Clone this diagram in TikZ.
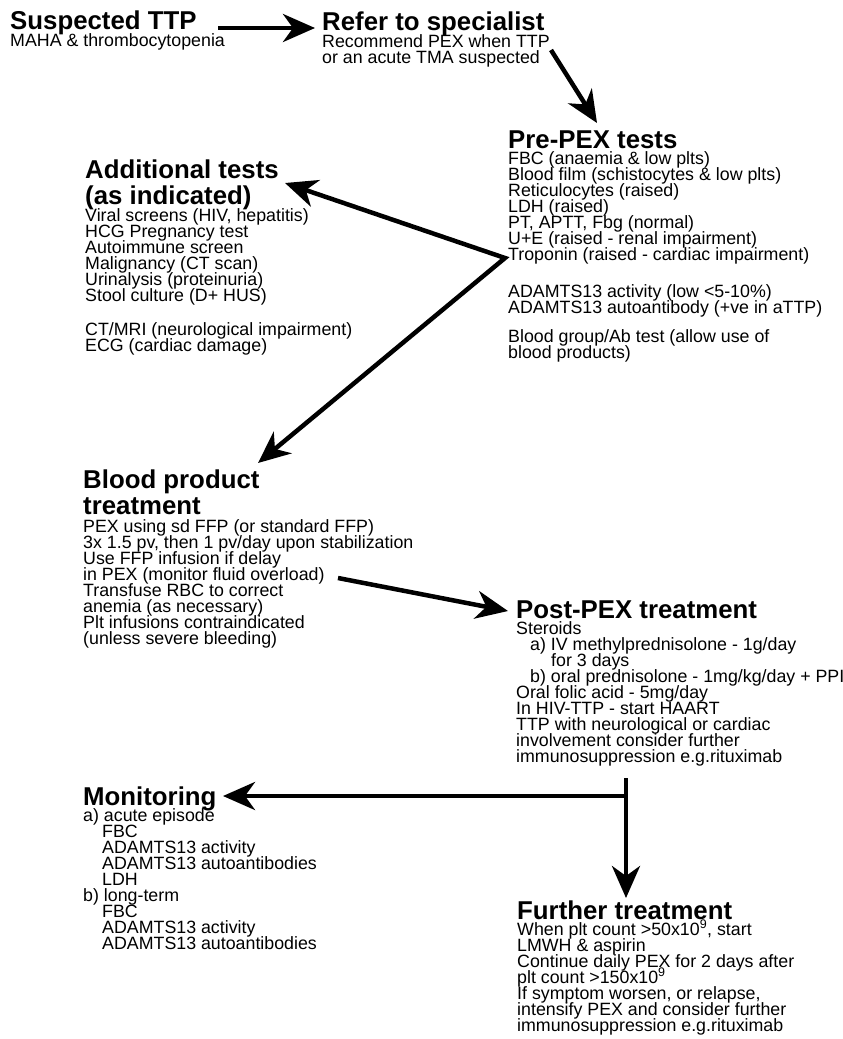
\documentclass[tikz,border=0pt]{standalone}
\usepackage{fontspec}
\setmainfont{Liberation Sans}
\usetikzlibrary{arrows.meta}
\setlength{\lineskiplimit}{-100pt}
\begin{document}
\begin{tikzpicture}[x=1pt,y=-1pt,
  ttl/.style={anchor=base west,inner sep=0pt,align=left,font=\bfseries\fontsize{25.8}{26}\selectfont},
  txt/.style={anchor=base west,inner sep=0pt,align=left,font=\fontsize{17.8}{16}\selectfont},
  tip/.tip={Stealth[length=32pt,width=28pt,inset=10pt]},
  arr/.style={line width=4.5pt,-tip},
  arrs/.style={line width=4.5pt,line join=miter,tip-tip}]
\useasboundingbox (0,0) rectangle (843,1039);
% blocks (anchor = baseline of the last line)
\node[ttl] (ttpT) at (10,29) {Suspected TTP};
\node[txt] (ttpB) at (10,46) {MAHA \& thrombocytopenia};
\node[ttl] (refT) at (322,30) {Refer to specialist};
\node[txt] (refB) at (322,63) {Recommend PEX when TTP\\or an acute TMA suspected};
\node[ttl] (preT) at (508,148) {Pre-PEX tests};
\node[txt] (preB) at (508,358) {FBC (anaemia \& low plts)\\Blood film (schistocytes \& low plts)\\Reticulocytes (raised)\\LDH (raised)\\PT, APTT, Fbg (normal)\\U+E (raised - renal impairment)\\Troponin (raised - cardiac impairment)\\[21pt]ADAMTS13 activity (low <5-10\%)\\ADAMTS13 autoantibody (+ve in aTTP)\\[13pt]Blood group/Ab test (allow use of\\blood products)};
\node[ttl] (addT) at (85,204) {Additional tests\\(as indicated)};
\node[txt] (addB) at (85,351) {Viral screens (HIV, hepatitis)\\HCG Pregnancy test\\Autoimmune screen\\Malignancy (CT scan)\\Urinalysis (proteinuria)\\Stool culture (D+ HUS)\\[18pt]CT/MRI (neurological impairment)\\ECG (cardiac damage)};
\node[ttl] (bldT) at (83,514) {Blood product\\treatment};
\node[txt] (bldB) at (83,644) {PEX using sd FFP (or standard FFP)\\3x 1.5 pv, then 1 pv/day upon stabilization\\Use FFP infusion if delay\\in PEX (monitor fluid overload)\\Transfuse RBC to correct\\anemia (as necessary)\\Plt infusions contraindicated\\(unless severe bleeding)};
\node[ttl] (postT) at (516,618) {Post-PEX treatment};
\node[txt] (postB) at (516,762) {Steroids\\\hspace*{14pt}a) IV methylprednisolone - 1g/day\\\hspace*{35pt}for 3 days\\\hspace*{14pt}b) oral prednisolone - 1mg/kg/day + PPI\\Oral folic acid - 5mg/day\\In HIV-TTP - start HAART\\TTP with neurological or cardiac\\involvement consider further\\immunosuppression e.g.rituximab};
\node[ttl] (monT) at (83,805) {Monitoring};
\node[txt] (monB) at (83,949) {a) acute episode\\\hspace*{19pt}FBC\\\hspace*{19pt}ADAMTS13 activity\\\hspace*{19pt}ADAMTS13 autoantibodies\\\hspace*{19pt}LDH\\b) long-term\\\hspace*{19pt}FBC\\\hspace*{19pt}ADAMTS13 activity\\\hspace*{19pt}ADAMTS13 autoantibodies};
\node[ttl] (furT) at (517,919) {Further treatment};
\node[txt] (furB) at (517,1031) {When plt count >50x10\textsuperscript{9}, start\\LMWH \& aspirin\\Continue daily PEX for 2 days after\\plt count >150x10\textsuperscript{9}\\If symptom worsen, or relapse,\\intensify PEX and consider further\\immunosuppression e.g.rituximab};
% connectors
\draw[arr] ([shift={(208,-1)}]ttpT.base west) -- ([shift={(-7,-2)}]refT.base west);
\draw[arr] ([shift={(229,-13)}]refB.base west) -- ([shift={(89,-25)}]preT.base west);
\coordinate (v) at ([shift={(-3,-100)}]preB.base west);
\draw[arrs] ([shift={(200,-21)}]addT.base west) -- (v) -- ([shift={(175,-51)}]bldT.base west);
\draw[arr] ([shift={(255,-66)}]bldB.base west) -- ([shift={(-8,-7)}]postT.base west);
\coordinate (ttop) at ([shift={(110,16)}]postB.base west);
\coordinate (j) at ([shift={(110,34)}]postB.base west);
\draw[arr] (ttop) -- ([shift={(109,-21)}]furT.base west);
\draw[arr] (j) -- ([shift={(140,-9)}]monT.base west);
\end{tikzpicture}
\end{document}
